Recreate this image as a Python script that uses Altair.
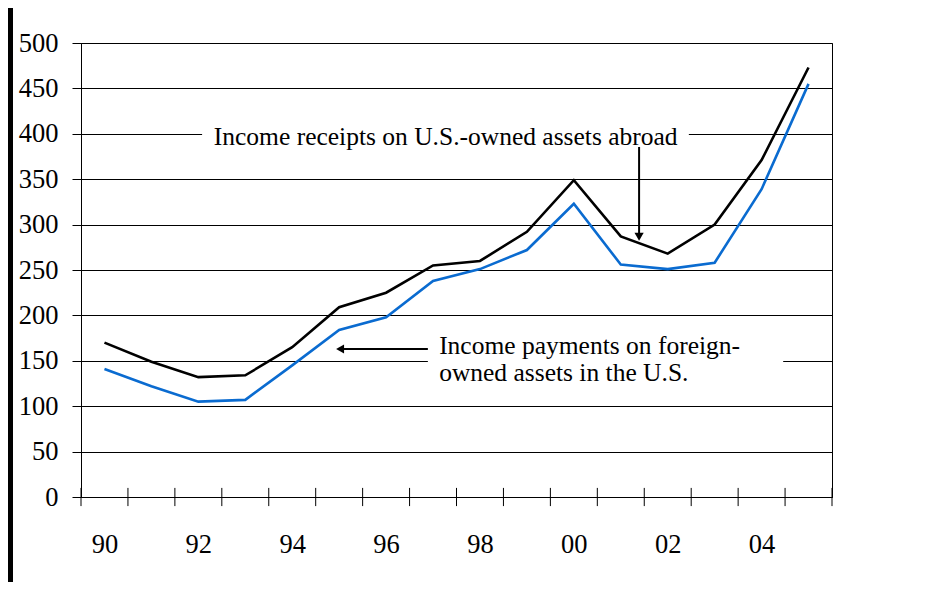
import altair as alt
import pandas as pd

# ---- data ----
years = list(range(1990, 2006))
receipts = [170, 149, 132, 134, 165, 209, 225, 255, 260, 292, 349, 287, 268, 300, 371, 473]
payments = [141, 122, 105, 107, 145, 184, 198, 238, 251, 272, 323, 256, 251, 258, 339, 455]
series = ["receipts", "payments"]
series_colors = ["#000000", "#0a6bd0"]
y_tick_values = list(range(0, 501, 50))
x_label_years = [1990, 1992, 1994, 1996, 1998, 2000, 2002, 2004]

# annotations (data coordinates)
ann1_text = ["Income receipts on U.S.-owned assets abroad"]
ann1_x = [1997.27]
ann1_y = [396]
ann2_text = ["Income payments on foreign-", "owned assets in the U.S."]
ann2_x = [1997.13, 1997.13]
ann2_y = [166.6, 136.2]

# white label boxes
box_x = [1992.08, 1996.89]
box_x2 = [2002.45, 2004.46]
box_y = [384, 112]
box_y2 = [416, 182]

# arrows
arrow1_x = [2001.39]
arrow1_y = [385.5]
arrow1_y2 = [288]
arrow1_head_y = [286.5]
arrow2_y = [163]
arrow2_x = [1996.89]
arrow2_x2 = [1995.1]
arrow2_head_x = [1995.02]

FONT = "Liberation Serif"

df = pd.DataFrame({
    "year": years * 2,
    "value": receipts + payments,
    "series": [series[0]] * len(years) + [series[1]] * len(years),
})
boundaries = [years[0] - 0.5 + i for i in range(len(years) + 1)]
ticks_df = pd.DataFrame({"x": boundaries, "y": [-10] * len(boundaries), "y2": [10] * len(boundaries)})

x_scale = alt.Scale(domain=[years[0] - 0.5, years[-1] + 0.5], nice=False, zero=False)
y_scale = alt.Scale(domain=[0, 500], nice=False, zero=True)

x_axis = alt.Axis(
    values=x_label_years, labelExpr="substring(toString(datum.value), 2, 4)",
    grid=False, ticks=False, tickSize=0, domain=True, domainColor="black", domainWidth=1,
    labelPadding=34, labelFont=FONT, labelFontSize=26.5, labelColor="black", title=None,
)
y_axis = alt.Axis(
    values=y_tick_values, grid=True, gridColor="black", gridWidth=1, gridOpacity=1,
    ticks=True, tickSize=9, tickColor="black", tickWidth=1, domain=True, domainColor="black",
    labelPadding=14, labelFont=FONT, labelFontSize=26.5, labelColor="black", title=None,
)

lines = alt.Chart(df).mark_line(strokeWidth=2.6).encode(
    x=alt.X("year:Q", scale=x_scale, axis=x_axis),
    y=alt.Y("value:Q", scale=y_scale, axis=y_axis),
    color=alt.Color("series:N", scale=alt.Scale(domain=series, range=series_colors), legend=None),
    detail="series:N",
)

boxes = alt.Chart(pd.DataFrame({"x": box_x, "x2": box_x2, "y": box_y, "y2": box_y2})).mark_rect(
    color="white"
).encode(
    x=alt.X("x:Q", scale=x_scale, axis=x_axis), x2="x2:Q",
    y=alt.Y("y:Q", scale=y_scale, axis=y_axis), y2="y2:Q",
)

xticks = alt.Chart(ticks_df).mark_rule(color="black", strokeWidth=1).encode(
    x=alt.X("x:Q", scale=x_scale, axis=x_axis),
    y=alt.Y("y:Q", scale=y_scale, axis=y_axis), y2="y2:Q",
)

arrow1 = alt.Chart(pd.DataFrame({"x": arrow1_x, "y": arrow1_y, "y2": arrow1_y2})).mark_rule(
    color="black", strokeWidth=2
).encode(
    x=alt.X("x:Q", scale=x_scale, axis=x_axis),
    y=alt.Y("y:Q", scale=y_scale, axis=y_axis), y2="y2:Q",
)
head1 = alt.Chart(pd.DataFrame({"x": arrow1_x, "y": arrow1_head_y})).mark_point(
    shape="triangle-down", filled=True, color="black", size=85, opacity=1
).encode(
    x=alt.X("x:Q", scale=x_scale, axis=x_axis),
    y=alt.Y("y:Q", scale=y_scale, axis=y_axis),
)
arrow2 = alt.Chart(pd.DataFrame({"x": arrow2_x, "x2": arrow2_x2, "y": arrow2_y})).mark_rule(
    color="black", strokeWidth=2
).encode(
    x=alt.X("x:Q", scale=x_scale, axis=x_axis), x2="x2:Q",
    y=alt.Y("y:Q", scale=y_scale, axis=y_axis),
)
head2 = alt.Chart(pd.DataFrame({"x": arrow2_head_x, "y": arrow2_y})).mark_point(
    shape="triangle-left", filled=True, color="black", size=85, opacity=1
).encode(
    x=alt.X("x:Q", scale=x_scale, axis=x_axis),
    y=alt.Y("y:Q", scale=y_scale, axis=y_axis),
)

text1 = alt.Chart(pd.DataFrame({"x": ann1_x, "y": ann1_y, "t": ann1_text})).mark_text(
    font=FONT, fontSize=25.5, color="black", align="center", baseline="middle"
).encode(
    x=alt.X("x:Q", scale=x_scale, axis=x_axis),
    y=alt.Y("y:Q", scale=y_scale, axis=y_axis),
    text="t:N",
)
text2 = alt.Chart(pd.DataFrame({"x": ann2_x, "y": ann2_y, "t": ann2_text})).mark_text(
    font=FONT, fontSize=25.5, color="black", align="left", baseline="middle"
).encode(
    x=alt.X("x:Q", scale=x_scale, axis=x_axis),
    y=alt.Y("y:Q", scale=y_scale, axis=y_axis),
    text="t:N",
)

# decorative black bar on the left edge of the figure
side_bar = alt.Chart(pd.DataFrame({"k": [0]})).mark_rect(color="black").encode(
    x=alt.value(-73), x2=alt.value(-68), y=alt.value(-35), y2=alt.value(560),
)

chart = alt.layer(
    boxes, lines, xticks, arrow1, head1, arrow2, head2, text1, text2, side_bar
).properties(
    width=751, height=454,
    padding={"left": 73, "top": 35, "right": 90, "bottom": 85},
    autosize=alt.AutoSizeParams(type="none"),
    background="white",
).configure_view(stroke="black", strokeWidth=1)

chart.save("out.html", embed_options={"renderer": "svg", "actions": False})
